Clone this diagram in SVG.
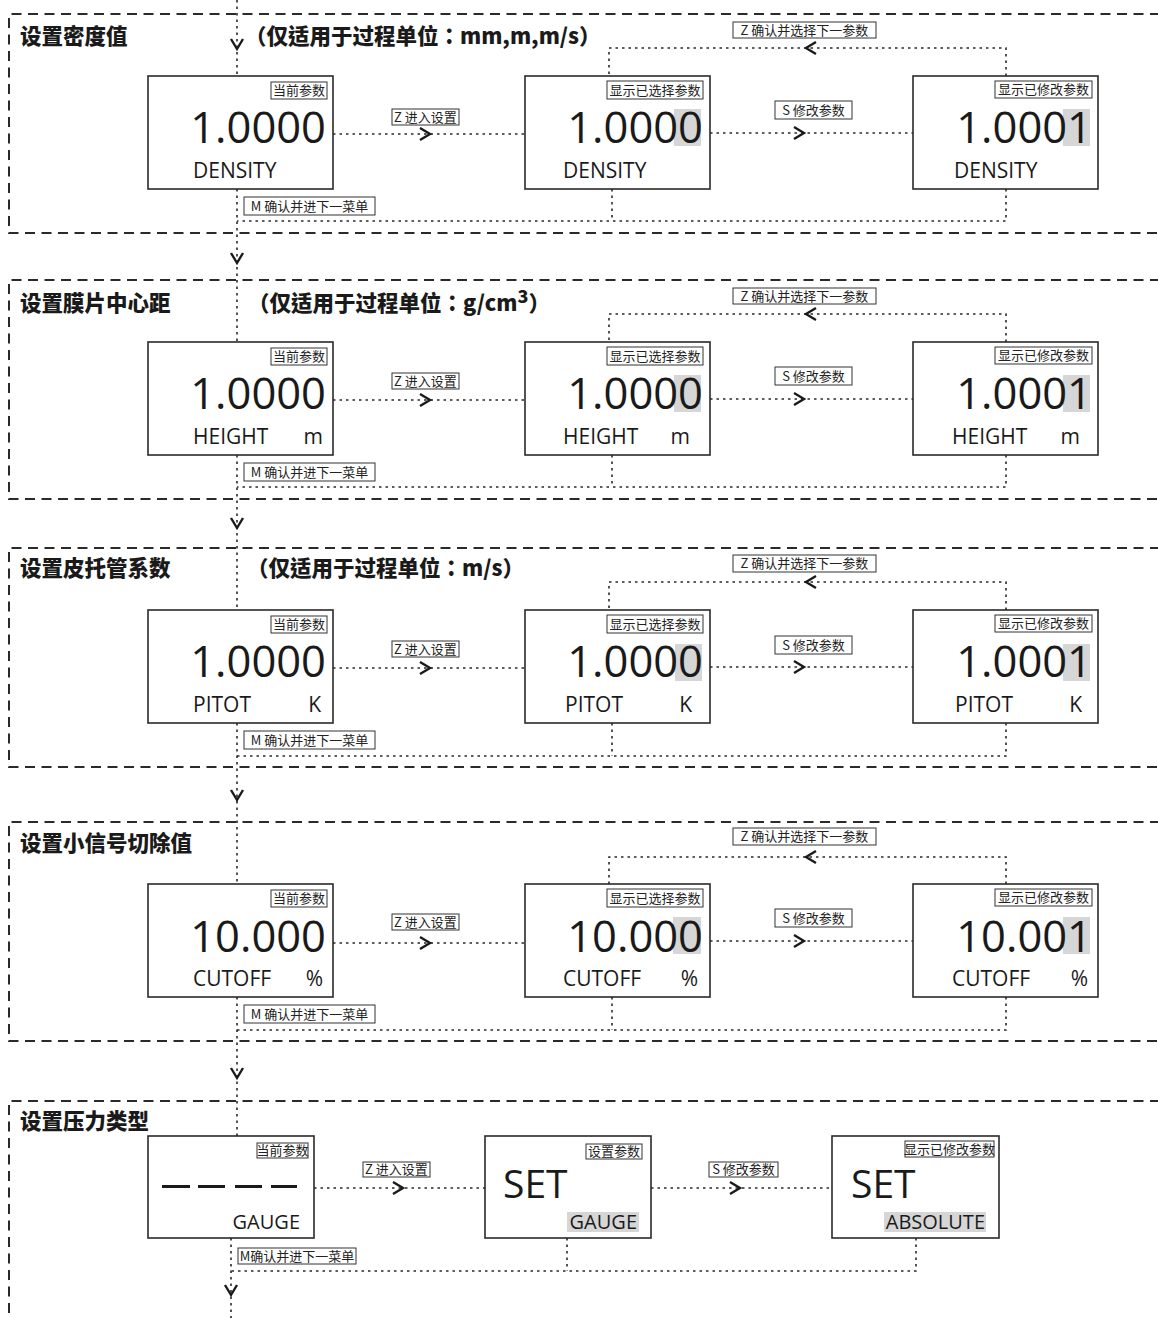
<svg xmlns="http://www.w3.org/2000/svg" xmlns:xlink="http://www.w3.org/1999/xlink" width="1158" height="1318" viewBox="0 0 1158 1318">
<style>
.sec{fill:none;stroke:#2a2a2a;stroke-width:2;stroke-dasharray:10 6.5}
.dot{fill:none;stroke:#2a2a2a;stroke-width:1.6;stroke-dasharray:2.5 4}
.chev{fill:none;stroke:#1a1a1a;stroke-width:2.4}
.box{fill:#fff;stroke:#2a2a2a;stroke-width:1.6}
.tag{fill:#fff;stroke:#333;stroke-width:1}
.tt{font-family:"Noto Sans CJK SC",sans-serif;font-size:13px;fill:#222;text-anchor:middle}
.lt{font-family:"Noto Sans CJK SC",sans-serif;font-size:13px;fill:#222;text-anchor:middle}
.num{font-family:"Open Sans",sans-serif;font-size:43.5px;fill:#1a1a1a;text-anchor:end}
.set{font-family:"Open Sans",sans-serif;font-size:39px;fill:#1a1a1a}
.nm{font-family:"Open Sans",sans-serif;font-size:21px;fill:#1a1a1a}
.un{font-family:"Open Sans",sans-serif;font-size:21px;fill:#1a1a1a;text-anchor:end}
.nm5{font-family:"Open Sans",sans-serif;font-size:20px;fill:#1a1a1a;text-anchor:end}
.title{font-family:"Noto Sans CJK SC",sans-serif;font-weight:900;font-size:21.5px;fill:#1a1a1a}
.sub{font-family:"Noto Sans CJK TC",sans-serif;font-weight:900;font-size:21.5px;fill:#1a1a1a}
.hl{fill:#d6d6d6}
.dash{fill:#1a1a1a}
</style>
<defs>
<path id="cr" class="chev" d="M-10,-6 L0,0 L-10,6"/>
<path id="cl" class="chev" d="M10,-6 L0,0 L10,6"/>
<path id="cd" class="chev" d="M-6,-10 L0,0 L6,-10"/>
</defs>

<g id="sections">
<path class="sec" d="M1160,14 H9 V233 H1160"/>
<path class="sec" d="M1160,280 H9 V499 H1160"/>
<path class="sec" d="M1160,548 H9 V767 H1160"/>
<path class="sec" d="M1160,822 H9 V1041 H1160"/>
<path class="sec" d="M1160,1101 H9 V1320"/>
<text class="title" x="20" y="44">设置密度值</text>
<text class="sub" x="245" y="44">（仅适用于过程单位：mm,m,m/s）</text>
<text class="title" x="20" y="311">设置膜片中心距</text>
<text class="sub" x="248" y="311">（仅适用于过程单位：g/cm<tspan dy="-8" font-size="18">3</tspan><tspan dy="8">）</tspan></text>
<text class="title" x="20" y="576">设置皮托管系数</text>
<text class="sub" x="247" y="576">（仅适用于过程单位：m/s）</text>
<text class="title" x="20" y="851">设置小信号切除值</text>
<text class="title" x="20" y="1129">设置压力类型</text>
</g>

<g id="connectors">
<path class="dot" d="M237,0 V76 M237,189 V342 M237,455 V610 M237,723 V884 M237,997 V1136 M231,1238 V1318"/>
<use xlink:href="#cd" x="237" y="49"/>
<use xlink:href="#cd" x="237" y="263"/>
<use xlink:href="#cd" x="237" y="528"/>
<use xlink:href="#cd" x="237" y="800"/>
<use xlink:href="#cd" x="237" y="1078"/>
<use xlink:href="#cd" x="231" y="1295"/>

<path class="dot" d="M333,134 H525 M710,133 H913 M1006,76 V48 H609 V76 M612,189 V221 M1006,189 V221 H237"/>
<use xlink:href="#cr" x="430" y="134"/>
<use xlink:href="#cr" x="804" y="133"/>
<use xlink:href="#cl" x="806" y="48"/>
<rect class="tag" x="392" y="109" width="67" height="16"/><text class="lt" x="425.5" y="121.5">Z 进入设置</text>
<rect class="tag" x="775" y="101" width="77" height="18"/><text class="lt" x="813.5" y="114.5">S 修改参数</text>
<rect class="tag" x="733" y="22" width="143" height="16"/><text class="lt" x="804.5" y="34.5">Z 确认并选择下一参数</text>
<rect class="tag" x="244" y="197" width="131" height="18"/><text class="lt" x="309.5" y="210.5">M 确认并进下一菜单</text>

<path class="dot" d="M333,400 H525 M710,399 H913 M1006,342 V314 H609 V342 M612,455 V487 M1006,455 V487 H237"/>
<use xlink:href="#cr" x="430" y="400"/>
<use xlink:href="#cr" x="804" y="399"/>
<use xlink:href="#cl" x="806" y="314"/>
<rect class="tag" x="392" y="373" width="67" height="16"/><text class="lt" x="425.5" y="385.5">Z 进入设置</text>
<rect class="tag" x="775" y="367" width="77" height="18"/><text class="lt" x="813.5" y="380.5">S 修改参数</text>
<rect class="tag" x="733" y="288" width="143" height="16"/><text class="lt" x="804.5" y="300.5">Z 确认并选择下一参数</text>
<rect class="tag" x="244" y="463" width="131" height="18"/><text class="lt" x="309.5" y="476.5">M 确认并进下一菜单</text>

<path class="dot" d="M333,668 H525 M710,667 H913 M1006,610 V582 H609 V610 M612,723 V756 M1006,723 V756 H237"/>
<use xlink:href="#cr" x="430" y="668"/>
<use xlink:href="#cr" x="804" y="667"/>
<use xlink:href="#cl" x="806" y="582"/>
<rect class="tag" x="392" y="641" width="67" height="16"/><text class="lt" x="425.5" y="653.5">Z 进入设置</text>
<rect class="tag" x="775" y="636" width="77" height="18"/><text class="lt" x="813.5" y="649.5">S 修改参数</text>
<rect class="tag" x="733" y="555" width="143" height="17"/><text class="lt" x="804.5" y="568">Z 确认并选择下一参数</text>
<rect class="tag" x="244" y="731" width="131" height="18"/><text class="lt" x="309.5" y="744.5">M 确认并进下一菜单</text>

<path class="dot" d="M333,943 H525 M710,941 H913 M1006,884 V857 H609 V884 M612,997 V1030 M1006,997 V1030 H237"/>
<use xlink:href="#cr" x="430" y="943"/>
<use xlink:href="#cr" x="804" y="941"/>
<use xlink:href="#cl" x="806" y="857"/>
<rect class="tag" x="392" y="914" width="67" height="16"/><text class="lt" x="425.5" y="926.5">Z 进入设置</text>
<rect class="tag" x="775" y="909" width="77" height="18"/><text class="lt" x="813.5" y="922.5">S 修改参数</text>
<rect class="tag" x="733" y="828" width="143" height="17"/><text class="lt" x="804.5" y="841">Z 确认并选择下一参数</text>
<rect class="tag" x="244" y="1005" width="131" height="18"/><text class="lt" x="309.5" y="1018.5">M 确认并进下一菜单</text>

<path class="dot" d="M314,1188 H485 M651,1188 H832 M567,1238 V1271 M916,1238 V1271 H231"/>
<use xlink:href="#cr" x="403" y="1188"/>
<use xlink:href="#cr" x="740" y="1188"/>
<rect class="tag" x="363" y="1162" width="67" height="15"/><text class="lt" x="396.5" y="1174" font-size="12">Z 进入设置</text>
<rect class="tag" x="709" y="1162" width="69" height="15"/><text class="lt" x="743.5" y="1174" font-size="12">S 修改参数</text>
<rect class="tag" x="238" y="1248" width="118" height="16"/><text class="lt" x="297" y="1260.5" font-size="12.5">M确认并进下一菜单</text>
</g>

<g id="s1-current">
<rect class="box" x="148" y="76" width="185" height="113"/>
<rect class="tag" x="271" y="82" width="56" height="17"/><text class="tt" x="299" y="95">当前参数</text>
<text class="num" x="326" y="143">1.0000</text>
<text class="nm" x="193" y="178">DENSITY</text>
</g>
<g id="s1-selected">
<rect class="box" x="525" y="76" width="185" height="113"/>
<rect class="hl" x="674" y="109" width="27" height="37"/>
<rect class="tag" x="607" y="81" width="96" height="18"/><text class="tt" x="655" y="94.5">显示已选择参数</text>
<text class="num" x="703" y="143">1.0000</text>
<text class="nm" x="563" y="178">DENSITY</text>
</g>
<g id="s1-modified">
<rect class="box" x="913" y="76" width="185" height="113"/>
<rect class="hl" x="1063" y="109" width="27" height="37"/>
<rect class="tag" x="995" y="81" width="97" height="17"/><text class="tt" x="1043.5" y="94">显示已修改参数</text>
<text class="num" x="1092" y="143">1.0001</text>
<text class="nm" x="954" y="178">DENSITY</text>
</g>

<g id="s2-current">
<rect class="box" x="148" y="342" width="185" height="113"/>
<rect class="tag" x="271" y="348" width="56" height="17"/><text class="tt" x="299" y="361">当前参数</text>
<text class="num" x="326" y="409">1.0000</text>
<text class="nm" x="193" y="444">HEIGHT</text><text class="un" x="323" y="444">m</text>
</g>
<g id="s2-selected">
<rect class="box" x="525" y="342" width="185" height="113"/>
<rect class="hl" x="674" y="375" width="27" height="37"/>
<rect class="tag" x="607" y="347" width="96" height="18"/><text class="tt" x="655" y="360.5">显示已选择参数</text>
<text class="num" x="703" y="409">1.0000</text>
<text class="nm" x="563" y="444">HEIGHT</text><text class="un" x="690" y="444">m</text>
</g>
<g id="s2-modified">
<rect class="box" x="913" y="342" width="185" height="113"/>
<rect class="hl" x="1063" y="375" width="27" height="37"/>
<rect class="tag" x="995" y="347" width="97" height="17"/><text class="tt" x="1043.5" y="360">显示已修改参数</text>
<text class="num" x="1092" y="409">1.0001</text>
<text class="nm" x="952" y="444">HEIGHT</text><text class="un" x="1080" y="444">m</text>
</g>

<g id="s3-current">
<rect class="box" x="148" y="610" width="185" height="113"/>
<rect class="tag" x="271" y="616" width="56" height="17"/><text class="tt" x="299" y="629">当前参数</text>
<text class="num" x="326" y="677">1.0000</text>
<text class="nm" x="193" y="712">PITOT</text><text class="un" x="321" y="712">K</text>
</g>
<g id="s3-selected">
<rect class="box" x="525" y="610" width="185" height="113"/>
<rect class="hl" x="675" y="644" width="27" height="37"/>
<rect class="tag" x="607" y="615" width="96" height="18"/><text class="tt" x="655" y="628.5">显示已选择参数</text>
<text class="num" x="703" y="677">1.0000</text>
<text class="nm" x="565" y="712">PITOT</text><text class="un" x="692" y="712">K</text>
</g>
<g id="s3-modified">
<rect class="box" x="913" y="610" width="185" height="113"/>
<rect class="hl" x="1063" y="644" width="27" height="37"/>
<rect class="tag" x="995" y="615" width="97" height="17"/><text class="tt" x="1043.5" y="628">显示已修改参数</text>
<text class="num" x="1092" y="677">1.0001</text>
<text class="nm" x="955" y="712">PITOT</text><text class="un" x="1082" y="712">K</text>
</g>

<g id="s4-current">
<rect class="box" x="148" y="884" width="185" height="113"/>
<rect class="tag" x="271" y="890" width="56" height="17"/><text class="tt" x="299" y="903">当前参数</text>
<text class="num" x="326" y="952">10.000</text>
<text class="nm" x="193" y="986">CUTOFF</text><text class="un" x="323" y="986">%</text>
</g>
<g id="s4-selected">
<rect class="box" x="525" y="884" width="185" height="113"/>
<rect class="hl" x="673" y="917" width="28" height="37"/>
<rect class="tag" x="607" y="889" width="96" height="18"/><text class="tt" x="655" y="902.5">显示已选择参数</text>
<text class="num" x="703" y="952">10.000</text>
<text class="nm" x="563" y="986">CUTOFF</text><text class="un" x="698" y="986">%</text>
</g>
<g id="s4-modified">
<rect class="box" x="913" y="884" width="185" height="113"/>
<rect class="hl" x="1063" y="917" width="27" height="37"/>
<rect class="tag" x="995" y="889" width="97" height="17"/><text class="tt" x="1043.5" y="902">显示已修改参数</text>
<text class="num" x="1092" y="952">10.001</text>
<text class="nm" x="952" y="986">CUTOFF</text><text class="un" x="1088" y="986">%</text>
</g>

<g id="s5-current">
<rect class="box" x="148" y="1136" width="166" height="102"/>
<rect class="tag" x="257" y="1143" width="51" height="15"/><text class="tt" x="282.5" y="1155" font-size="12">当前参数</text>
<rect class="dash" x="162" y="1185" width="28" height="3"/>
<rect class="dash" x="198" y="1185" width="27" height="3"/>
<rect class="dash" x="235" y="1185" width="27" height="3"/>
<rect class="dash" x="271" y="1185" width="26" height="3"/>
<text class="nm5" x="300" y="1229">GAUGE</text>
</g>
<g id="s5-set">
<rect class="box" x="485" y="1136" width="166" height="102"/>
<rect class="tag" x="586" y="1144" width="56" height="15"/><text class="tt" x="614" y="1156" font-size="12">设置参数</text>
<text class="set" x="503" y="1198">SET</text>
<rect class="hl" x="567" y="1212" width="72" height="20"/>
<text class="nm5" x="637" y="1229">GAUGE</text>
</g>
<g id="s5-modified">
<rect class="box" x="832" y="1136" width="167" height="102"/>
<rect class="tag" x="905" y="1141" width="89" height="16"/><text class="tt" x="949.5" y="1153.5" font-size="12">显示已修改参数</text>
<text class="set" x="851" y="1198">SET</text>
<rect class="hl" x="884" y="1212" width="102" height="20"/>
<text class="nm5" x="985" y="1229">ABSOLUTE</text>
</g>
</svg>
